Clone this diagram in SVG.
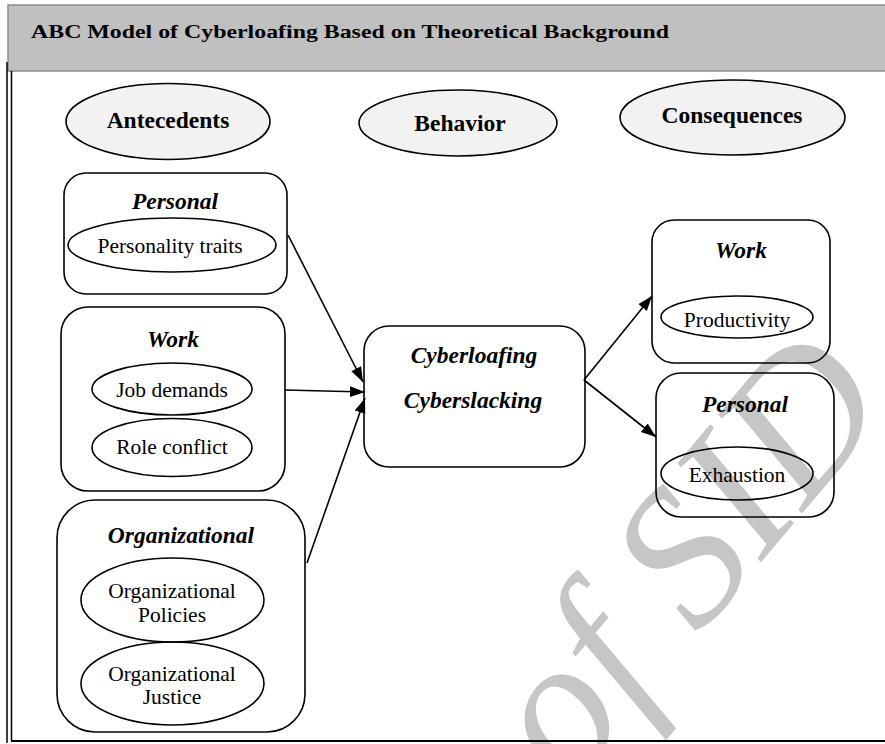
<svg xmlns="http://www.w3.org/2000/svg" width="885" height="744" viewBox="0 0 885 744">
<style>
.box{fill:none;stroke:#000;stroke-width:1.6}
.ov{fill:none;stroke:#000;stroke-width:1.6}
.hd{fill:#f2f2f2;stroke:#000;stroke-width:1.6}
.b{font-family:"Liberation Serif","Times New Roman",serif;font-weight:bold;font-size:23.5px;text-anchor:middle;fill:#000}
.bi{font-family:"Liberation Serif","Times New Roman",serif;font-weight:bold;font-style:italic;font-size:23.5px;text-anchor:middle;fill:#000}
.r{font-family:"Liberation Serif","Times New Roman",serif;font-size:21.5px;text-anchor:middle;fill:#000}
.con{stroke:#000;stroke-width:1.6;fill:none;marker-end:url(#ah)}
</style>
<defs>
<marker id="ah" markerUnits="userSpaceOnUse" markerWidth="16" markerHeight="12" refX="15" refY="5.5" orient="auto">
<path d="M0,0 L15,5.5 L0,11 z" fill="#000"/>
</marker>
</defs>
<rect x="0" y="0" width="885" height="744" fill="#ffffff"/>
<g id="watermark">
<text x="570" y="790" transform="rotate(-50 570 790)" font-family="Liberation Serif, Times New Roman, serif" font-style="italic" font-size="195" fill="#c6c6c6">of SID</text>
</g>
<g id="frame">
<rect x="8" y="5" width="880" height="66" fill="#c0c0c0" stroke="#8c8c8c" stroke-width="1.5"/>
<line x1="7" y1="62" x2="7" y2="743" stroke="#000" stroke-width="1.5"/>
<line x1="11.5" y1="71" x2="11.5" y2="740" stroke="#000" stroke-width="1.5"/>
<line x1="11" y1="741" x2="885" y2="741" stroke="#000" stroke-width="1.8"/>
<text x="31" y="38" font-family="Liberation Serif, Times New Roman, serif" font-weight="bold" font-size="19" textLength="638" lengthAdjust="spacingAndGlyphs">ABC Model of Cyberloafing Based on Theoretical Background</text>
</g>
<g id="antecedents">
<ellipse class="hd" cx="168" cy="121.5" rx="102" ry="38"/>
<text class="b" x="168" y="128">Antecedents</text>
</g>
<g id="behavior">
<ellipse class="hd" cx="458" cy="123" rx="99" ry="33"/>
<text class="b" x="460" y="131">Behavior</text>
</g>
<g id="consequences">
<ellipse class="hd" cx="732.5" cy="117.5" rx="112.5" ry="37.5"/>
<text class="b" x="732" y="123">Consequences</text>
</g>
<g id="personal-ante">
<rect class="box" x="64" y="173" width="223" height="121" rx="22"/>
<text class="bi" x="175" y="209">Personal</text>
<ellipse class="ov" cx="172" cy="245" rx="104" ry="27"/>
<text class="r" x="170" y="253">Personality traits</text>
</g>
<g id="work-ante">
<rect class="box" x="61" y="307" width="224" height="184" rx="27"/>
<text class="bi" x="173" y="347">Work</text>
<ellipse class="ov" cx="172" cy="389" rx="80" ry="26"/>
<text class="r" x="172" y="397">Job demands</text>
<ellipse class="ov" cx="172" cy="447.5" rx="80" ry="29"/>
<text class="r" x="172" y="454">Role conflict</text>
</g>
<g id="organizational-ante">
<rect class="box" x="57" y="500" width="248" height="232" rx="38"/>
<text class="bi" x="181" y="543">Organizational</text>
<ellipse class="ov" cx="172.5" cy="600" rx="91.5" ry="42"/>
<text class="r" x="172" y="598">Organizational</text>
<text class="r" x="172" y="622">Policies</text>
<ellipse class="ov" cx="172.5" cy="683.5" rx="91.5" ry="41.5"/>
<text class="r" x="172" y="681">Organizational</text>
<text class="r" x="172" y="704">Justice</text>
</g>
<g id="cyberloafing">
<rect class="box" x="364" y="326" width="221" height="141" rx="25"/>
<text class="bi" x="474" y="363">Cyberloafing</text>
<text class="bi" x="473" y="408">Cyberslacking</text>
</g>
<g id="work-cons">
<rect class="box" x="652" y="220" width="178" height="143" rx="22"/>
<text class="bi" x="741" y="258">Work</text>
<ellipse class="ov" cx="737" cy="317" rx="76" ry="21"/>
<text class="r" x="737" y="327">Productivity</text>
</g>
<g id="personal-cons">
<rect class="box" x="656" y="373" width="178" height="144" rx="25"/>
<text class="bi" x="745" y="412">Personal</text>
<ellipse class="ov" cx="737" cy="473.5" rx="76" ry="26.5"/>
<text class="r" x="737" y="482">Exhaustion</text>
</g>
<g id="connectors">
<line class="con" x1="288" y1="235" x2="363" y2="382"/>
<line class="con" x1="285" y1="390" x2="365" y2="392"/>
<line class="con" x1="307" y1="563" x2="365" y2="398"/>
<line class="con" x1="584" y1="380" x2="652" y2="296"/>
<line class="con" x1="584" y1="380" x2="656" y2="437"/>
</g>
</svg>
